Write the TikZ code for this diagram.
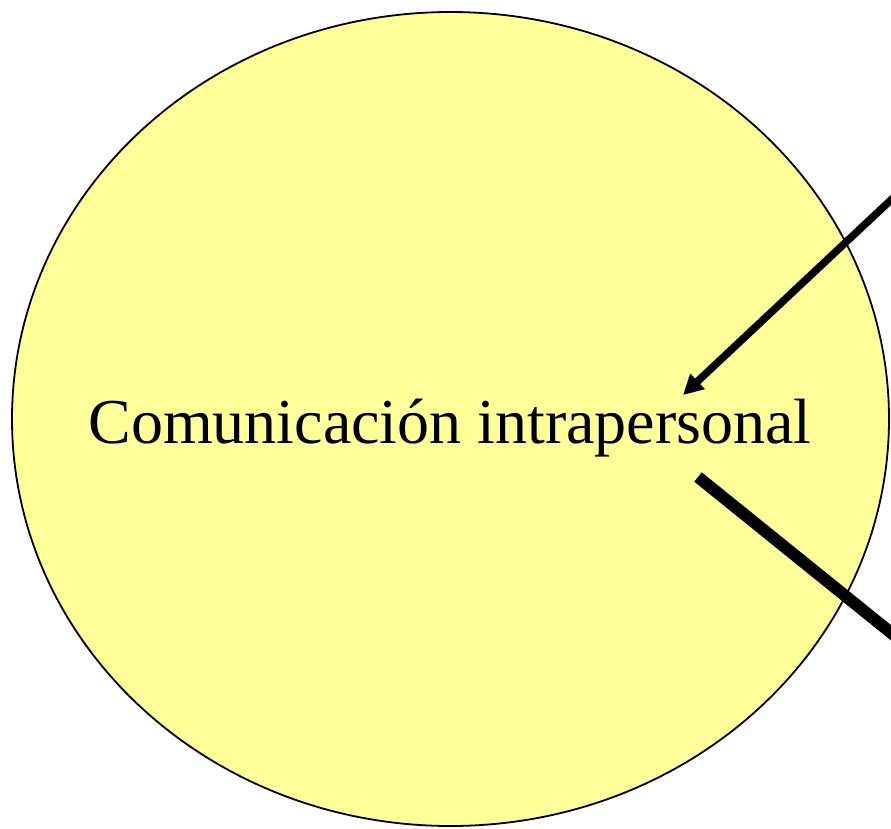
\documentclass[tikz,border=0pt]{standalone}
\usepackage{fontspec}
\setmainfont{Liberation Serif}
\usetikzlibrary{arrows.meta}
\definecolor{ellfill}{HTML}{FFFF99}
\begin{document}
\begin{tikzpicture}[x=1pt,y=-1pt,
  blob/.style={draw=black,line width=1.8pt,fill=ellfill},
  label/.style={font=\fontsize{64}{68}\selectfont,inner sep=0pt,anchor=base},
  arrowline/.style={line width=7.5pt,-{Triangle[length=20pt,width=20pt]}},
  heavyline/.style={line width=12pt}]
\useasboundingbox (0,0) rectangle (891,828);
\draw[blob] (450.5,419) ellipse [x radius=438.5, y radius=407];
\node[label] (txt) at (450,443) {Comunicación intrapersonal};
\coordinate (a1s) at (893,198);
\coordinate (a1e) at (683,395);
\coordinate (l2s) at (698,477);
\coordinate (l2e) at (895,636);
\draw[arrowline] (a1s) -- (a1e);
\draw[heavyline] (l2s) -- (l2e);
\end{tikzpicture}
\end{document}
